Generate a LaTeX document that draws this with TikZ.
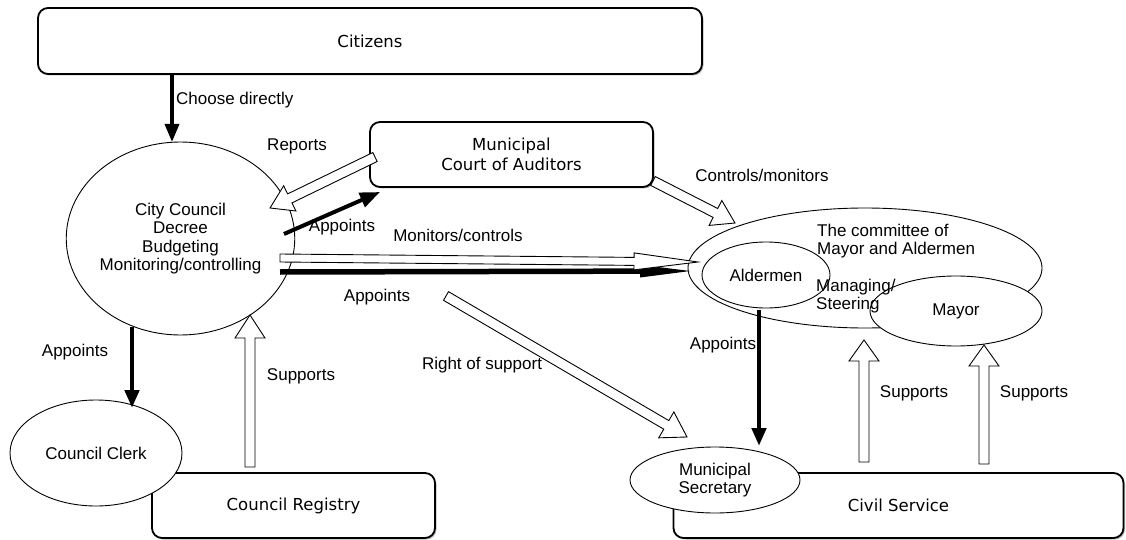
\documentclass[tikz,border=0pt]{standalone}
\usepackage{fontspec}
\setmainfont{Liberation Sans}
\newfontfamily\boxfont{DejaVu Sans}
\usetikzlibrary{shapes.geometric,arrows.meta,calc,shadows}

% Outlined block arrow: #1 start, #2 tip, #3 half shaft width,
% #4 half head width, #5 head length
\newcommand\hollowarrow[5]{%
  \coordinate (hbase) at ($(#2)!#5!(#1)$);
  \draw[hollowtip]
    ($(#1)!#3!90:(#2)$) -- ($(hbase)!#3!90:(#2)$) --
    ($(hbase)!#4!90:(#2)$) -- (#2) --
    ($(hbase)!#4!-90:(#2)$) -- ($(hbase)!#3!-90:(#2)$) --
    ($(#1)!#3!-90:(#2)$) -- cycle;}

\begin{document}
\begin{tikzpicture}[x=1pt, y=-1pt,
  box/.style={draw, line width=1.8pt, rounded corners=10pt, fill=white,
    inner sep=0pt, align=center,
    font=\boxfont\fontsize{16.5}{19.5}\selectfont,
    drop shadow={shadow xshift=1.5pt, shadow yshift=-1.5pt, fill=black!45, opacity=0.6}},
  oval/.style={ellipse, draw, line width=0.9pt, fill=white, inner sep=0pt,
    align=center, font=\fontsize{17}{18.5}\selectfont},
  lbl/.style={inner sep=0pt, font=\fontsize{17}{18.5}\selectfont, align=left},
  hollowtip/.style={draw, fill=white, line width=0.9pt, line join=miter},
  solidarrow/.style={line width=4.5pt, -{Triangle[length=18pt,width=14pt]}},
]
\useasboundingbox[fill=white] (0,0) rectangle (1126,540);

% boxes
\node[box, minimum width=664pt, minimum height=66pt] (citizens) at (370,41) {Citizens};
\node[box, minimum width=283pt, minimum height=65pt] (court) at (511.5,154.5) {Municipal\\Court of Auditors};
\node[box, minimum width=283pt, minimum height=65pt] (registry) at (293.5,505.5) {Council Registry};
\node[box, minimum width=450pt, minimum height=65pt] (civil) at (898.5,505.5) {Civil Service};

% ellipses
\node[oval, minimum width=205pt, minimum height=193pt] (council) at (180.5,238.5)
  {City Council\\Decree\\Budgeting\\Monitoring/controlling};
\node[oval, minimum width=172pt, minimum height=106pt] (clerk) at (96,453) {Council Clerk};
\node[oval, minimum width=170pt, minimum height=66pt] (secretary) at (715,480) {Municipal\\Secretary};
\node[oval, minimum width=354pt, minimum height=120pt] (committee) at (865,268) {};
\node[oval, minimum width=128pt, minimum height=66pt] (aldermen) at (766,275) {Aldermen};
\node[oval, minimum width=172pt, minimum height=70pt] (mayor) at (956,311) {Mayor};
\node[lbl, anchor=west] (committeetext) at (817,241) {The committee of\\Mayor and Aldermen};
\node[lbl, anchor=west] (steering) at (816,296) {Managing/\\Steering};

% arrow end points
\coordinate (cz0) at (172,75);   \coordinate (cz1) at (172,142);
\coordinate (ap0) at (284,234);  \coordinate (ap1) at (380,192);
\coordinate (al0) at (280,272);  \coordinate (al1) at (697,271);
\coordinate (ck0) at (132,327);  \coordinate (ck1) at (132,408);
\coordinate (sc0) at (759,310);  \coordinate (sc1) at (759,446);
\coordinate (rp0) at (375,157);  \coordinate (rp1) at (270,208);
\coordinate (mc0) at (280,258);  \coordinate (mc1) at (698,262);
\coordinate (cm0) at (653,181);  \coordinate (cm1) at (735,223);
\coordinate (rs0) at (446,296);  \coordinate (rs1) at (687,437);
\coordinate (rg0) at (250,467);  \coordinate (rg1) at (250,315);
\coordinate (s10) at (864,462);  \coordinate (s11) at (864,340);
\coordinate (s20) at (984,464);  \coordinate (s21) at (984,345);

% solid arrows (appointment / election)
\draw[solidarrow, line width=3.5pt] (cz0) -- (cz1);
\draw[solidarrow, line width=4pt, -{Triangle[length=20pt,width=15pt]}] (ap0) -- (ap1);
\draw[line width=5.5pt, -{Triangle[length=57pt,width=11pt]}] (al0) -- (al1);
\draw[solidarrow] (ck0) -- (ck1);
\draw[solidarrow] (sc0) -- (sc1);

% outlined arrows (reports, control, support)
\hollowarrow{rp0}{rp1}{5pt}{14pt}{22pt}
\hollowarrow{mc0}{mc1}{4pt}{8.5pt}{64pt}
\hollowarrow{cm0}{cm1}{5pt}{14pt}{22pt}
\hollowarrow{rs0}{rs1}{5pt}{15pt}{24pt}
\hollowarrow{rg0}{rg1}{5pt}{15pt}{23pt}
\hollowarrow{s10}{s11}{5pt}{15pt}{21pt}
\hollowarrow{s20}{s21}{5pt}{15pt}{21pt}

% labels
\node[lbl, anchor=west] (lchoose) at (176,100) {Choose directly};
\node[lbl] (lreports) at (297,146) {Reports};
\node[lbl] (lapp1) at (342,227) {Appoints};
\node[lbl] (lmon) at (458,235) {Monitors/controls};
\node[lbl] (lapp2) at (377,297) {Appoints};
\node[lbl] (lright) at (482,365) {Right of support};
\node[lbl] (lctrl) at (762,175) {Controls/monitors};
\node[lbl] (lapp3) at (75,352) {Appoints};
\node[lbl] (lsup1) at (301,376) {Supports};
\node[lbl] (lapp4) at (723,345) {Appoints};
\node[lbl] (lsup2) at (914,393) {Supports};
\node[lbl] (lsup3) at (1034,393) {Supports};
\end{tikzpicture}
\end{document}
